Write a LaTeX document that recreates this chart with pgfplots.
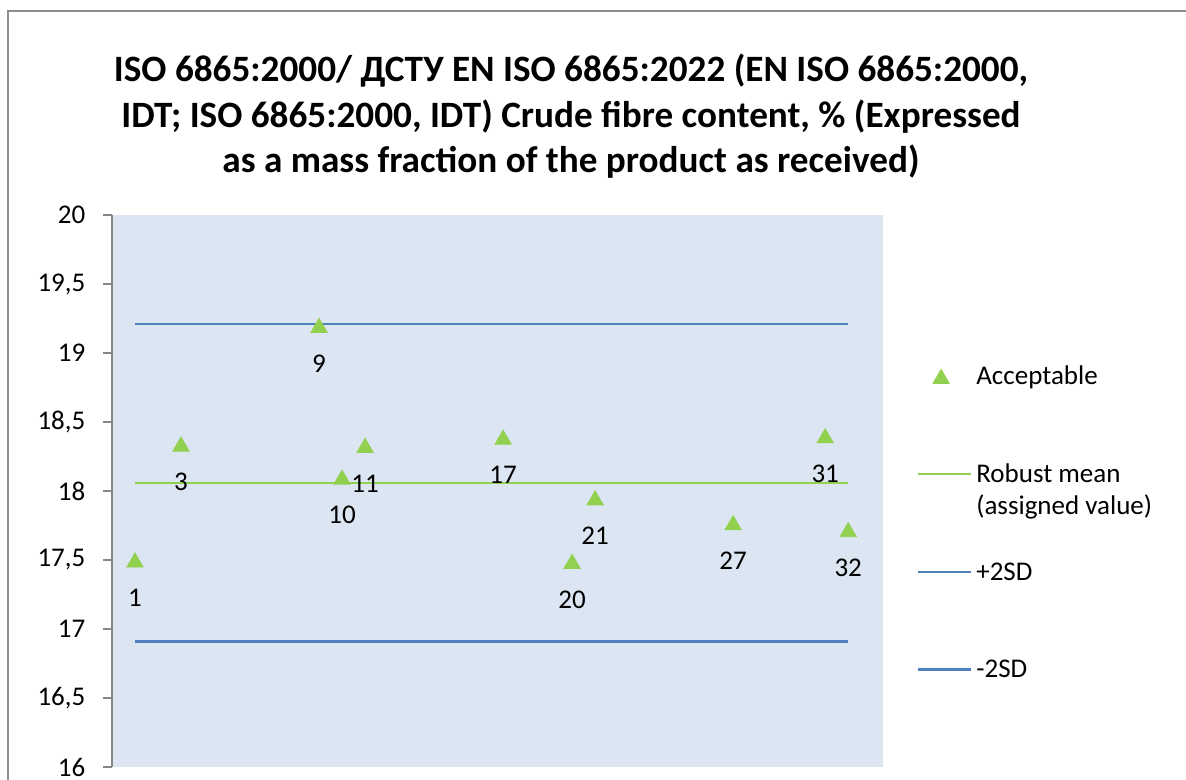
\documentclass[border=0pt]{standalone}
\usepackage{fontspec}
\setmainfont{Carlito}
\usepackage{pgfplots}
\pgfplotsset{compat=1.18}

\definecolor{plotbg}{HTML}{DCE6F2}
\definecolor{accgreen}{HTML}{92D050}
\definecolor{sdblue}{HTML}{4F81BD}
\definecolor{axisgray}{HTML}{868686}
\definecolor{framegray}{HTML}{8C8C8C}

\newcommand{\lblfont}{\fontsize{13.5bp}{16bp}\selectfont}
\newcommand{\ttlfont}{\fontsize{18.6bp}{22bp}\selectfont\bfseries}

\pgfplotsset{
  line key/.style={legend image code/.code={\draw[##1] (0bp,0bp) -- (26.5bp,0bp);}},
  mark key/.style={legend image code/.code={\draw[##1] plot coordinates {(11.5bp,0bp)};}},
}

\begin{document}
\begin{tikzpicture}
\useasboundingbox (0,0) rectangle (593bp,390bp);
% outer chart frame (left and top edges visible)
\draw[framegray, line width=1bp] (4bp,0) -- (4bp,384.5bp) -- (593bp,384.5bp);
% title
\node[font=\ttlfont, anchor=base, inner sep=0pt] at (285.5bp,349.15bp) {ISO 6865:2000/ ДСТУ EN ISO 6865:2022 (EN ISO 6865:2000,};
\node[font=\ttlfont, anchor=base, inner sep=0pt] at (285.5bp,326.15bp) {IDT; ISO 6865:2000, IDT) Crude fibre content, \% (Expressed};
\node[font=\ttlfont, anchor=base, inner sep=0pt] at (285.5bp,303.85bp) {as a mass fraction of the product as received)};

\begin{axis}[
  at={(56bp,6.5bp)}, anchor=south west,
  scale only axis, width=385.35bp, height=276bp,
  xmin=0, xmax=33.5, ymin=16, ymax=20,
  axis background/.style={fill=plotbg},
  separate axis lines,
  axis x line*=bottom, axis y line*=left,
  x axis line style={draw=none},
  y axis line style={draw=axisgray, line width=1bp},
  xtick=\empty,
  ytick={16,16.5,...,20},
  tick align=outside,
  major tick length=4.5bp,
  ytick style={draw=axisgray, line width=1bp},
  yticklabel style={font=\lblfont, inner sep=0pt, anchor=east, xshift=-8.65bp},
  /pgf/number format/.cd, use comma, fixed, assume math mode=true,
  /pgfplots/.cd,
  clip=false,
  legend cell align=left,
  line key,
  legend style={at={(1.0439,0.7292)}, anchor=north west, draw=none, fill=none,
    inner sep=0pt, row sep=37.35bp, column sep=2bp, font=\lblfont,
    nodes={inner sep=0pt, text height=10bp, text depth=1.5bp}},
]
% reference lines
\addplot[accgreen, line width=1.2bp, forget plot] coordinates {(1,18.06) (32,18.06)};
\addplot[sdblue, line width=1.2bp, forget plot] coordinates {(1,19.21) (32,19.21)};
\addplot[sdblue, line width=1.2bp, forget plot] coordinates {(1,16.91) (32,16.91)};
% laboratory results
\addplot[only marks, mark=triangle*, mark size=4.7bp, color=accgreen,
  mark options={yshift=-1.175bp},
  nodes near coords, point meta=explicit symbolic,
  every node near coord/.append style={anchor=center, yshift=-17.85bp, text=black, font=\lblfont, inner sep=0pt},
  mark key]
coordinates {
  (1,17.50) [1]
  (3,18.34) [3]
  (9,19.20) [9]
  (10,18.10) [10]
  (11,18.33) [11]
  (17,18.39) [17]
  (20,17.49) [20]
  (21,17.95) [21]
  (27,17.77) [27]
  (31,18.40) [31]
  (32,17.72) [32]
};
\addlegendentry{Acceptable}
\addlegendimage{accgreen, line width=1.2bp}
\addlegendentry{\rlap{\smash{\raisebox{-16bp}{(assigned value)}}}Robust mean}
\addlegendimage{sdblue, line width=1.2bp}
\addlegendentry{+2SD}
\addlegendimage{sdblue, line width=1.2bp}
\addlegendentry{-2SD}
\end{axis}
\end{tikzpicture}
\end{document}
